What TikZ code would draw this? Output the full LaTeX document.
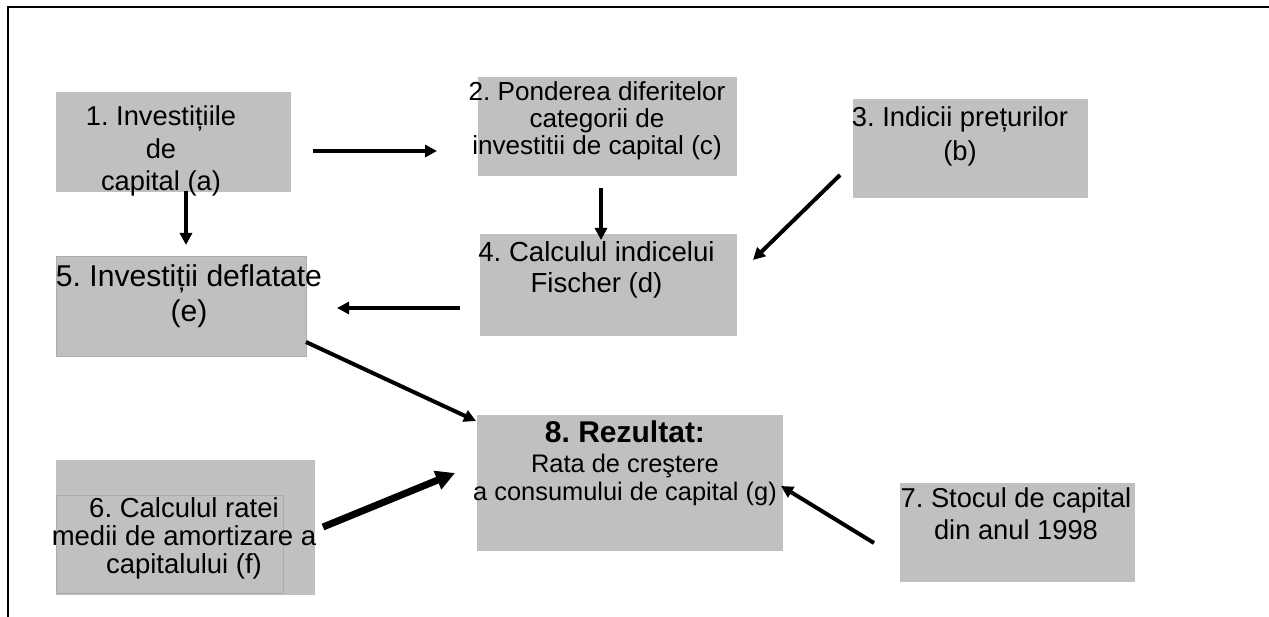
\documentclass[tikz,border=0pt]{standalone}
\usepackage{fontspec}
\setmainfont{Liberation Sans}
\usetikzlibrary{arrows.meta}
\definecolor{boxgray}{RGB}{192,192,192}
\definecolor{edgegray}{RGB}{172,172,172}
\frenchspacing
\begin{document}
\begin{tikzpicture}[x=1pt,y=-1pt,
  box/.style={fill=boxgray,draw=none,inner sep=0pt,outer sep=0pt,anchor=north west},
  edgebox/.style={box,draw=edgegray,line width=1pt},
  lbl/.style={inner sep=0pt,align=center,text=black},
  arr/.style={line width=4pt,-{Triangle[length=12pt,width=12pt]}},
  bigarr/.style={line width=7pt,-{Triangle[length=19pt,width=19pt]}},
  frameline/.style={line width=1.2pt,black}]
\useasboundingbox (0,0) rectangle (1269,617);
% frame (top and left edges)
\draw[frameline] (8,617) -- (8,7) -- (1269,7);
% boxes
\node[box,minimum width=235pt,minimum height=100pt] (b1) at (56,92) {};
\node[box,minimum width=259pt,minimum height=99pt] (b2) at (478,77) {};
\node[box,minimum width=235pt,minimum height=99pt] (b3) at (853,99) {};
\node[box,minimum width=257pt,minimum height=102pt] (b4) at (480,234) {};
\node[edgebox,minimum width=250pt,minimum height=100pt] (b5) at (56,257) {};
\node[box,minimum width=259pt,minimum height=135pt] (b6) at (56,460) {};
\node[box,fill=none,draw=edgegray,line width=1pt,minimum width=227pt,minimum height=98pt] (b6in) at (56,495) {};
\node[box,minimum width=235pt,minimum height=99pt] (b7) at (900,483) {};
\node[box,minimum width=306pt,minimum height=136pt] (b8) at (477,415) {};
% texts
\node[lbl,font=\fontsize{27.3}{32.5}\selectfont] (t1) at (161,151) {1. Investițiile\\de\\capital (a)};
\node[lbl,font=\fontsize{26.1}{27}\selectfont] (t2) at (597,120.5) {2. Ponderea diferitelor\\categorii de\\investitii de capital (c)};
\node[lbl,font=\fontsize{27.4}{34}\selectfont] (t3) at (960,136) {3. Indicii prețurilor\\(b)};
\node[lbl,font=\fontsize{27.6}{31}\selectfont] (t4) at (596.5,270) {4. Calculul indicelui\\Fischer (d)};
\node[lbl,font=\fontsize{30.1}{34.7}\selectfont] (t5) at (189,296) {5. Investiții deflatate\\(e)};
\node[lbl,font=\fontsize{27.5}{28}\selectfont] (t6) at (184,538) {6. Calculul ratei\\medii de amortizare a\\capitalului (f)};
\node[lbl,font=\fontsize{27.3}{31.7}\selectfont] (t7) at (1016,514) {7. Stocul de capital\\din anul 1998};
\node[lbl,font=\fontsize{25.4}{28.4}\selectfont] (t8) at (625,463.5) {{\bfseries\fontsize{30}{30}\selectfont 8. Rezultat:}\\[1.6pt]Rata de creştere\\a consumului de capital (g)};
% connector end points
\coordinate (a12s) at (313,151); \coordinate (a12e) at (437,151);
\coordinate (a15s) at (186,191); \coordinate (a15e) at (186,245);
\coordinate (a24s) at (601,188); \coordinate (a24e) at (601,240);
\coordinate (a34s) at (840,175); \coordinate (a34e) at (753,260);
\coordinate (a45s) at (460,308); \coordinate (a45e) at (337,308);
\coordinate (a58s) at (306,342); \coordinate (a58e) at (476,421);
\coordinate (a68s) at (323,527); \coordinate (a68e) at (455,473);
\coordinate (a78s) at (874,543); \coordinate (a78e) at (781,486);
% connectors
\draw[arr] (a12s) -- (a12e);
\draw[arr] (a15s) -- (a15e);
\draw[arr] (a24s) -- (a24e);
\draw[arr] (a34s) -- (a34e);
\draw[arr] (a45s) -- (a45e);
\draw[arr] (a58s) -- (a58e);
\draw[bigarr] (a68s) -- (a68e);
\draw[arr] (a78s) -- (a78e);
\end{tikzpicture}
\end{document}
